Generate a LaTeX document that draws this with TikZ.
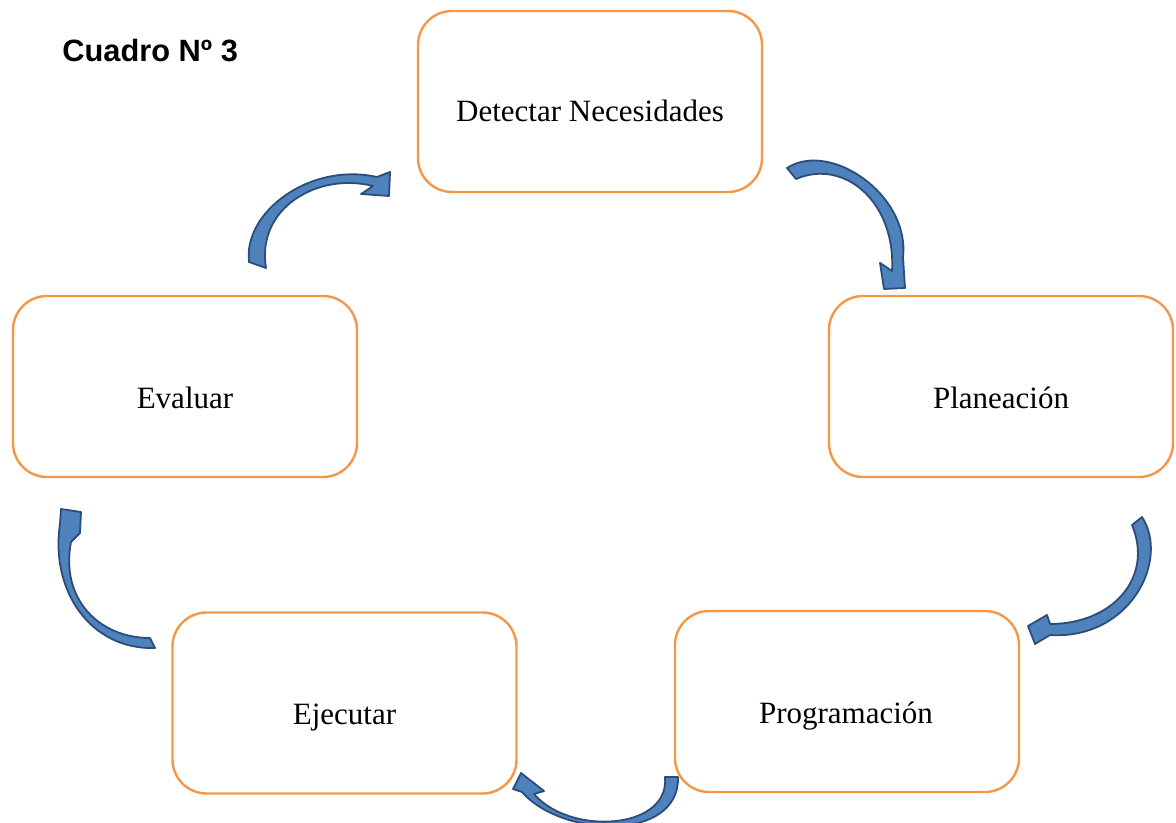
\documentclass[tikz,border=0pt]{standalone}
\usepackage{fontspec}
\setmainfont{Liberation Serif}
\newfontfamily\arialfont{Liberation Sans}
\definecolor{boxorange}{HTML}{F79646}
\definecolor{arrowfill}{HTML}{4F81BD}
\definecolor{arrowline}{HTML}{2A4D7A}
\begin{document}
\begin{tikzpicture}[x=0.5pt,y=-0.5pt,
  box/.style={draw=boxorange, line width=1.2pt, rounded corners=17pt,
    minimum width=172pt, minimum height=90.5pt, inner sep=0pt},
  lbl/.style={font=\fontsize{15.5}{18}\selectfont, anchor=base, inner sep=0pt},
  blockarrow/.style={fill=arrowfill, draw=arrowline, line width=0.9pt, line join=round}]
\useasboundingbox (0,0) rectangle (1176,823);

\node[lbl, anchor=base west, font=\arialfont\bfseries\fontsize{15.4}{18}\selectfont] (title) at (62,62) {Cuadro Nº 3};

\node[box] (det) at (590,101.5) {};
\node[box] (eva) at (185,386.5) {};
\node[box] (pla) at (1001,386.5) {};
\node[box] (pro) at (847,701.5) {};
\node[box] (eje) at (344.5,703) {};

\node[lbl] (tdet) at (590,122) {Detectar Necesidades};
\node[lbl] (teva) at (185,408) {Evaluar};
\node[lbl] (tpla) at (1001,408) {Planeación};
\node[lbl] (tpro) at (846,723) {Programación};
\node[lbl] (teje) at (344.5,724) {Ejecutar};

% Evaluar -> Detectar
\draw[blockarrow] (249,262) .. controls (243,212) and (310,162) .. (377,177)
  -- (390,172) -- (389,196) -- (361,194) -- (373,186)
  .. controls (318,172) and (256,208) .. (266,268) -- cycle;
% Detectar -> Planeacion
\draw[blockarrow] (787,168) .. controls (830,140) and (910,195) .. (903,257)
  -- (905,288) -- (884,289) -- (880,263) -- (892,271)
  .. controls (896,203) and (845,158) .. (796,179) -- cycle;
% Planeacion -> Programacion
\draw[blockarrow] (1142,517) .. controls (1170,560) and (1130,640) .. (1050,635)
  -- (1035,644) -- (1028,626) -- (1047,615) -- (1050,624)
  .. controls (1112,624) and (1154,578) .. (1132,525) -- cycle;
% Programacion -> Ejecutar
\draw[blockarrow] (678,777) .. controls (680,842) and (562,838) .. (522,792)
  -- (513,789) -- (521,773) -- (544,791) -- (534,794)
  .. controls (570,836) and (670,830) .. (665,777) -- cycle;
% Ejecutar -> Evaluar
\draw[blockarrow] (60,524) .. controls (50,590) and (90,650) .. (155,648)
  -- (150,638) .. controls (100,638) and (60,600) .. (71,542)
  -- (80,533) -- (81,512) -- (61,509) -- cycle;
\end{tikzpicture}
\end{document}
